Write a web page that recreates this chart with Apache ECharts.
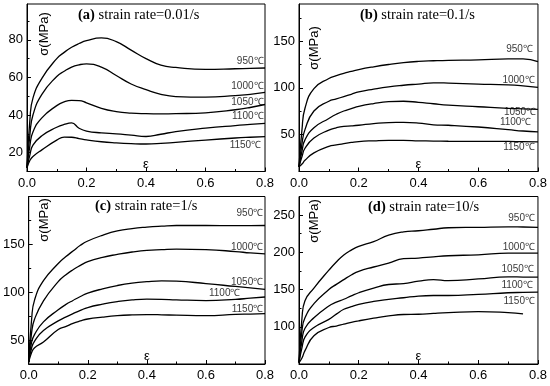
<!DOCTYPE html>
<html>
<head>
<meta charset="utf-8">
<script src="https://cdn.jsdelivr.net/npm/echarts@6/dist/echarts.min.js"></script>
<style>
html,body{margin:0;padding:0;background:#fff;}
#main{width:550px;height:386px;}
</style>
</head>
<body>
<div id="main"></div>
<script>
// ---- data ----
const strain = [0,0.01,0.02,0.05,0.1,0.125,0.15,0.175,0.2,0.25,0.3,0.35,0.4,0.45,0.5,0.6,0.7,0.75,0.8];
const temps = ['950℃','1000℃','1050℃','1100℃','1150℃'];

// (a) strain rate 0.01/s
const a950  = [12,38,49,59.5,70,73.3,76,78,79.5,81,79,74.5,70,66.5,65.3,64.3,64.6,64.8,65];
const a1000 = [12,30,40,51,60.5,63.3,65.5,66.7,67.2,65.5,61,56.5,53.5,51,49.8,49.5,50.3,51,52];
const a1050 = [12,24,31,38.5,45,47,47.8,47.7,46.5,43.5,41.8,41,40.7,40.6,40.7,41.2,42.8,44,45.6];
const a1100 = [12,19,24,29,33.5,35,35.8,33,31.5,30.5,30,29.3,28.6,29.8,31.2,33,34.4,35,35.6];
const a1150 = [12,16,18,21.5,26.7,28.3,28.2,27.5,26.8,25.8,25.2,24.8,24.6,24.9,25.5,26.7,27.8,28.2,28.5];
const aLabY = [68.5,55.1,46.8,39.3,23.7];
const aLabX = [0.795,0.795,0.795,0.795,0.787];
const aYTicks = [20,40,60,80];
const aYMinor = [30,50,70,90];

// (b) strain rate 0.1/s
const b950  = [15,55,78,99,110,113,115.5,117.5,119.5,122.5,125,127,128.3,129,129.5,130,131,131,128];
const b1000 = [15,40,55,75,85.5,88,90.5,93,95.5,98.5,101,102.7,104,105.3,105,104,103,102,100.5];
const b1050 = [15,32,44,57,67,71.5,75,77.5,80,83,85,85.5,84.3,82.8,81.4,79.6,77.8,77.3,76.7];
const b1100 = [15,26,35,46,54.5,57,58.5,59,59.7,61.5,62.6,62.7,62,60.2,59.7,57.8,55,53.5,52.5];
const b1150 = [15,18,22,30,37,38.5,40,41.2,42.2,43,43.5,43.5,43,42.7,42.5,42.4,42.3,42,41.8];
const bLabY = [141,108.5,74.2,63.4,36.3];
const bLabX = [0.783,0.789,0.794,0.778,0.789];
const bYTicks = [50,100,150];
const bYMinor = [25,75,125,175];

// (c) strain rate 1/s
const c950  = [27,72,92,112,130,137,143,149,153.5,159.5,164,166.5,168,169,169.7,169.7,169.5,169.6,169.7];
const c1000 = [27,58,72,91,111,118,123.5,128,132,136.5,139.5,142,143.8,144.5,145,144.5,142.5,141,140];
const c1050 = [27,48,56,69,81.7,87,91.4,95.5,99,103.5,107,109.5,111,111.8,111.5,109,106,104.5,103];
const c1100 = [27,42,49,60,70,74,77.6,81,84,87.5,90.2,92,92.8,92.6,92,91.3,92.5,93.8,95];
const c1150 = [27,37,42,48,61,64,67.5,70,72,74,75.5,76.3,76.6,76.4,76,75.5,76.8,77.2,77.6];
const cLabY = [182,147.2,110,99,82.4];
const cLabX = [0.794,0.794,0.794,0.717,0.794];
const cYTicks = [50,100,150];
const cYMinor = [75,125,175];

// (d) strain rate 10/s
const d950  = [52,112,135,152,176,187,196.5,203,208,214.5,223,227.5,229,231,233,233.6,234.3,234,233.6];
const d1000 = [52,95,112,131,150,157,163.4,169.5,174.5,180.3,185.6,191.5,192.3,194,195.4,196.7,199,199,199];
const d1050 = [52,82,98,112,128,133,137,141.5,145.7,152,156.8,158,161.2,163.4,162,164.3,167,166.8,166.6];
const d1100 = [52,72,86,99,110,117,123.5,127,130,134,136.8,139,141.3,142,142,143.5,145.7,146.2,146.6];
const d1150 = [52,58,68,88,99,101,103.5,106,108,111.5,114.6,116.5,116.8,118,119,120.4,119,117.2,null];
const dLabY = [245.6,207,177.6,155.5,134.6];
const dLabX = [0.79,0.79,0.786,0.783,0.79];
const dYTicks = [100,150,200,250];
const dYMinor = [75,125,175,225];

const titles = [['(a)',' strain rate=0.01/s'],['(b)',' strain rate=0.1/s'],['(c)',' strain rate=1/s'],['(d)',' strain rate=10/s']];

// ---- layout ----
const panels = [
  {grid:{left:27,top:4,width:238,height:167.5}, yMin:10, yMax:99, ticks:aYTicks, minor:aYMinor,
   series:[a950,a1000,a1050,a1100,a1150], labX:aLabX, labY:aLabY, title:{left:78,top:8}, sigma:[44,34]},
  {grid:{left:299,top:4,width:239,height:167.5}, yMin:10, yMax:190, ticks:bYTicks, minor:bYMinor,
   series:[b950,b1000,b1050,b1100,b1150], labX:bLabX, labY:bLabY, title:{left:360,top:8}, sigma:[314,48]},
  {grid:{left:27,top:196.5,width:238,height:167.5}, yMin:25, yMax:200, ticks:cYTicks, minor:cYMinor,
   series:[c950,c1000,c1050,c1100,c1150], labX:cLabX, labY:cLabY, title:{left:95,top:199}, sigma:[44,220]},
  {grid:{left:299,top:196.5,width:239,height:167.5}, yMin:50, yMax:275, ticks:dYTicks, minor:dYMinor,
   series:[d950,d1000,d1050,d1100,d1150], labX:dLabX, labY:dLabY, title:{left:368,top:200}, sigma:[314,221]}
];

const FONT = "'Liberation Sans', Arial, sans-serif";
const SERIF = "'Liberation Serif', 'Times New Roman', serif";

const option = {
  animation:false,
  backgroundColor:'#fff',
  grid:[], xAxis:[], yAxis:[], series:[], title:[], graphic:[]
};

panels.forEach((p,gi)=>{
  option.grid.push(Object.assign({show:true, borderColor:'#000', borderWidth:1, containLabel:false}, p.grid));
  option.xAxis.push({
    type:'value', gridIndex:gi, min:0, max:0.8, interval:0.2,
    axisLine:{show:true, lineStyle:{color:'#000', width:1}},
    axisTick:{show:true, inside:true, length:4, lineStyle:{color:'#000'}},
    minorTick:{show:true, splitNumber:2, length:2.5, lineStyle:{color:'#000'}},
    axisLabel:{color:'#000', fontSize:13, fontFamily:FONT, margin:5, formatter:v=>v.toFixed(1)},
    splitLine:{show:false},
    name:'ε', nameLocation:'middle', nameGap:-14,
    nameTextStyle:{color:'#000', fontSize:13, fontFamily:FONT}
  });
  option.yAxis.push({
    type:'value', gridIndex:gi, min:p.yMin, max:p.yMax, position:'left', offset:0,
    axisLine:{show:true, lineStyle:{color:'#000', width:1}},
    axisTick:{show:true, inside:true, length:4, customValues:p.ticks, lineStyle:{color:'#000'}},
    axisLabel:{color:'#000', fontSize:13, fontFamily:FONT, margin:4, customValues:p.ticks},
    splitLine:{show:false}
  });
  option.yAxis.push({
    type:'value', gridIndex:gi, min:p.yMin, max:p.yMax, position:'left', offset:0,
    axisLine:{show:false},
    axisTick:{show:true, inside:true, length:2.5, customValues:p.minor, lineStyle:{color:'#000'}},
    axisLabel:{show:false, customValues:p.minor},
    splitLine:{show:false}
  });
  const yi = gi*2;
  p.series.forEach((vals,k)=>{
    option.series.push({
      type:'line', xAxisIndex:gi, yAxisIndex:yi,
      data: strain.map((s,i)=>[s, vals[i]]),
      showSymbol:false, smooth:0.5, connectNulls:false,
      lineStyle:{color:'#000', width:1.3}, silent:true
    });
  });
  option.series.push({
    type:'scatter', xAxisIndex:gi, yAxisIndex:yi, symbolSize:0, silent:true,
    data: p.labX.map((x,i)=>({name:temps[i], value:[x, p.labY[i]]})),
    label:{show:true, position:'left', distance:0, formatter:'{b}', color:'#000',
           fontSize:10, fontFamily:FONT, verticalAlign:'middle'}
  });
  option.title.push({
    left:p.title.left, top:p.title.top, padding:0,
    text:'{b|'+titles[gi][0]+'}{n|'+titles[gi][1]+'}',
    textStyle:{fontWeight:'normal', fontFamily:SERIF, fontSize:14.5, color:'#000', rich:{
      b:{fontFamily:SERIF, fontSize:14.5, fontWeight:'bold', color:'#000'},
      n:{fontFamily:SERIF, fontSize:14.5, fontWeight:'normal', color:'#000'}
    }}
  });
  option.graphic.push({
    type:'text', x:p.sigma[0], y:p.sigma[1], rotation:Math.PI/2,
    style:{text:'σ(MPa)', fill:'#000', font:'13px '+FONT, textAlign:'center', textVerticalAlign:'middle'}
  });
});

const chart = echarts.init(document.getElementById('main'), null, {renderer:'canvas'});
chart.setOption(option);
</script>
</body>
</html>
